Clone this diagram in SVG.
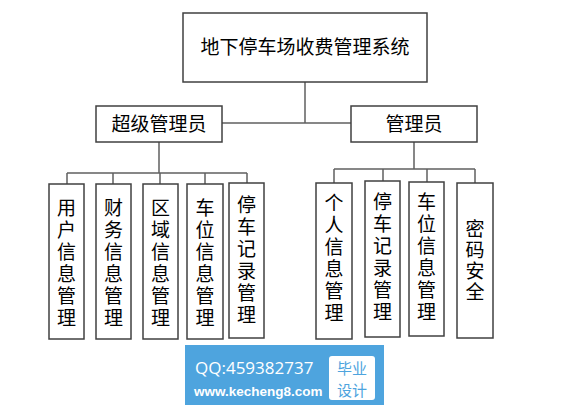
<svg xmlns="http://www.w3.org/2000/svg" width="570" height="411" viewBox="0 0 570 411">
<style>
.box{fill:#fff;stroke:#404040;stroke-width:1.5}
.ln{fill:none;stroke:#606060;stroke-width:1.5}
.t{font-family:"Noto Sans CJK SC","Liberation Sans",sans-serif;font-size:19px;fill:#000;text-anchor:middle}
.v{font-family:"Noto Sans CJK SC","Liberation Sans",sans-serif;font-size:19px;fill:#000;text-anchor:middle;writing-mode:vertical-rl;letter-spacing:3px}
.wm{font-family:"Noto Sans CJK SC",sans-serif;font-size:15px;fill:#4ea4de;text-anchor:middle}
</style>
<rect width="570" height="411" fill="#fff"/>
<g id="connectors">
<path class="ln" d="M305 82V123M222 123H351"/>
<path class="ln" d="M159 142V173M67 173H247M67 173V184M113 173V184M160 173V184M205 173V184M247 173V183"/>
<path class="ln" d="M414 142V169M334 169H475M334 169V183M383 169V181M427 169V182M475 169V183"/>
</g>
<g id="root"><rect class="box" x="183" y="13" width="244" height="69"/><text class="t" x="305" y="54" font-size="20">地下停车场收费管理系统</text></g>
<g id="super"><rect class="box" x="96" y="106" width="126" height="36"/><text class="t" x="159" y="131">超级管理员</text></g>
<g id="admin"><rect class="box" x="351" y="106" width="126" height="36"/><text class="t" x="414" y="131">管理员</text></g>
<g id="n1"><rect class="box" x="49" y="184" width="35" height="155"/><text class="v" x="66.5" y="264">用户信息管理</text></g>
<g id="n2"><rect class="box" x="96" y="184" width="35" height="155"/><text class="v" x="113.5" y="264">财务信息管理</text></g>
<g id="n3"><rect class="box" x="143" y="184" width="35" height="155"/><text class="v" x="160.5" y="264">区域信息管理</text></g>
<g id="n4"><rect class="box" x="187" y="184" width="36" height="155"/><text class="v" x="205" y="264">车位信息管理</text></g>
<g id="n5"><rect class="box" x="229" y="183" width="35" height="155"/><text class="v" x="246.5" y="261">停车记录管理</text></g>
<g id="m1"><rect class="box" x="316" y="183" width="36" height="156"/><text class="v" x="334" y="259">个人信息管理</text></g>
<g id="m2"><rect class="box" x="365" y="181" width="35" height="156"/><text class="v" x="382.5" y="258">停车记录管理</text></g>
<g id="m3"><rect class="box" x="409" y="182" width="35" height="154"/><text class="v" x="426.5" y="258">车位信息管理</text></g>
<g id="m4"><rect class="box" x="457" y="183" width="36" height="155"/><text class="v" x="475" y="261" style="letter-spacing:2px">密码安全</text></g>
<g id="watermark">
<rect x="185" y="345" width="199" height="60" fill="#4ea4de"/>
<rect x="329" y="356" width="46" height="44" rx="3" fill="#fff"/>
<text x="195" y="374" font-family="'Open Sans','Liberation Sans',sans-serif" font-size="17" fill="#fff">QQ:459382737</text>
<text x="194" y="396" font-family="'Liberation Sans',sans-serif" font-size="13.5" font-weight="bold" fill="#fff">www.kecheng8.com</text>
<text class="wm" x="352" y="374">毕业</text>
<text class="wm" x="352" y="396">设计</text>
</g>
</svg>
